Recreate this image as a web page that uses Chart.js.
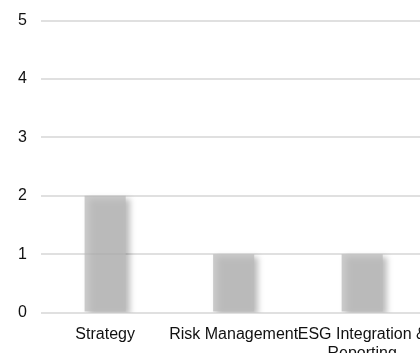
<!DOCTYPE html>
<html>
<head>
<meta charset="utf-8">
<script src="https://cdn.jsdelivr.net/npm/chart.js@4/dist/chart.umd.min.js"></script>
<style>
  html, body { margin: 0; padding: 0; background: #fff; overflow: hidden; }
  #wrap { position: relative; top: -3px; width: 440px; height: 378px; }
</style>
</head>
<body>
<div id="wrap"><canvas id="pillar-chart"></canvas></div>
<script>
var categories = ['Strategy', 'Risk Management', ['ESG Integration &', 'Reporting']];
var counts = [2, 1, 1];
var yTicks = [0, 1, 2, 3, 4, 5];

// soft drop shadow under the bars
var barShadow = {
    id: 'barShadow',
    beforeDatasetsDraw: function (chart) {
        var ctx = chart.ctx;
        ctx.save();
        ctx.shadowColor = 'rgba(0, 0, 0, 0.35)';
        ctx.shadowBlur = 6;
        ctx.shadowOffsetX = 4;
        ctx.shadowOffsetY = 3;
    },
    afterDatasetsDraw: function (chart) {
        chart.ctx.restore();
    }
};

var ctx = document.getElementById('pillar-chart');
var chart = new Chart(ctx, {
    type: 'bar',
    data: {
        labels: categories,
        datasets: [{
            data: counts,
            backgroundColor: 'rgba(185, 185, 185, 0.75)',
            borderWidth: 0,
            barPercentage: 0.4,
            categoryPercentage: 0.8
        }]
    },
    options: {
        responsive: true,
        maintainAspectRatio: false,
        animation: false,
        layout: { padding: { top: 5, right: 8, left: 4, bottom: 0 } },
        plugins: {
            legend: { display: false },
            tooltip: { enabled: false }
        },
        scales: {
            x: {
                grid: { display: false, drawTicks: false },
                border: { display: false },
                ticks: {
                    color: '#111',
                    padding: 12,
                    maxRotation: 0,
                    autoSkip: false,
                    font: { family: 'Liberation Sans, Arial, sans-serif', size: 16 }
                }
            },
            y: {
                min: yTicks[0],
                max: yTicks[yTicks.length - 1],
                afterBuildTicks: function (axis) {
                    axis.ticks = yTicks.map(function (v) { return { value: v }; });
                },
                grid: { color: '#e0e0e0', lineWidth: 2, drawTicks: false },
                border: { display: false },
                ticks: {
                    color: '#111',
                    padding: 14,
                    font: { family: 'Liberation Sans, Arial, sans-serif', size: 16 }
                }
            }
        }
    },
    plugins: [barShadow]
});
</script>
</body>
</html>
